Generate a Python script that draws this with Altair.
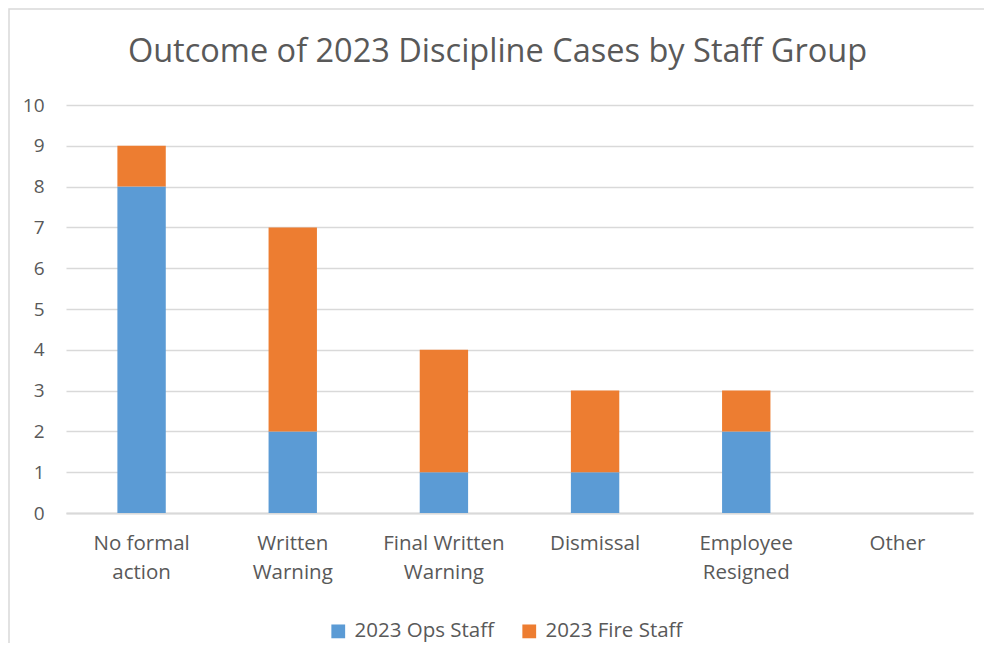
import altair as alt
import pandas as pd

categories = ["No formal action", "Written Warning", "Final Written Warning",
              "Dismissal", "Employee Resigned", "Other"]
ops_staff = [8, 2, 1, 1, 2, 0]
fire_staff = [1, 5, 3, 2, 1, 0]
series = ["2023 Ops Staff", "2023 Fire Staff"]
colors = ["#5B9BD5", "#ED7D31"]
y_ticks = list(range(0, 11))
title_text = "Outcome of 2023 Discipline Cases by Staff Group"

rows = []
for i, c in enumerate(categories):
    rows.append({"category": c, "series": series[0], "value": ops_staff[i], "ord": 0})
    rows.append({"category": c, "series": series[1], "value": fire_staff[i], "ord": 1})
df = pd.DataFrame(rows)

FONT = "Open Sans"
GREY = "#595959"

label_expr = ("{'No formal action':['No formal','action'],'Written Warning':['Written','Warning'],"
              "'Final Written Warning':['Final Written','Warning'],'Dismissal':'Dismissal',"
              "'Employee Resigned':['Employee','Resigned'],'Other':'Other'}[datum.label]")

W, H = 907, 408

bars = alt.Chart(df).mark_bar().encode(
    x=alt.X("category:N", sort=categories,
            scale=alt.Scale(paddingInner=0.68, paddingOuter=0.34),
            axis=alt.Axis(title=None, labelAngle=0, labelExpr=label_expr,
                          labelFont=FONT, labelFontSize=20.5, labelColor=GREY,
                          labelPadding=20, labelLineHeight=29, ticks=False,
                          domainColor="#d9d9d9", domainWidth=2, labelBaseline="top")),
    y=alt.Y("value:Q", stack="zero",
            scale=alt.Scale(domain=[0, 10], nice=False),
            axis=alt.Axis(title=None, values=y_ticks, domain=False, ticks=False,
                          labelFont=FONT, labelFontSize=19, labelColor=GREY,
                          labelPadding=22, gridColor="#d9d9d9", gridWidth=1.3)),
    color=alt.Color("series:N", sort=series,
                    scale=alt.Scale(domain=series, range=colors),
                    legend=alt.Legend(title=None, orient="none", direction="horizontal",
                                      legendX=262, legendY=516,
                                      symbolType="square", symbolSize=190,
                                      symbolStrokeWidth=0,
                                      labelFont=FONT, labelFontSize=20.5, labelColor=GREY,
                                      columnPadding=24, labelOffset=6)),
    order=alt.Order("ord:Q"),
)

frame = alt.Chart(pd.DataFrame({"a": [0]})).mark_rect(
    fill="transparent", stroke="#d9d9d9", strokeWidth=1.5
).encode(
    x=alt.value(-57), x2=alt.value(W + 60), y=alt.value(-96), y2=alt.value(H + 220)
)

title = alt.Chart(pd.DataFrame({"t": [title_text]})).mark_text(
    font=FONT, fontSize=32.5, color=GREY, align="center", baseline="middle"
).encode(
    x=alt.value(W / 2 - 22), y=alt.value(-53), text="t:N"
)

chart = alt.layer(frame, bars, title).properties(
    width=W, height=H,
    autosize=alt.AutoSizeParams(type="none"),
    padding={"left": 58, "top": 97, "right": 11, "bottom": 130},
).configure_view(stroke=None)

chart.save("out.html", embed_options={"renderer": "svg", "actions": False})
